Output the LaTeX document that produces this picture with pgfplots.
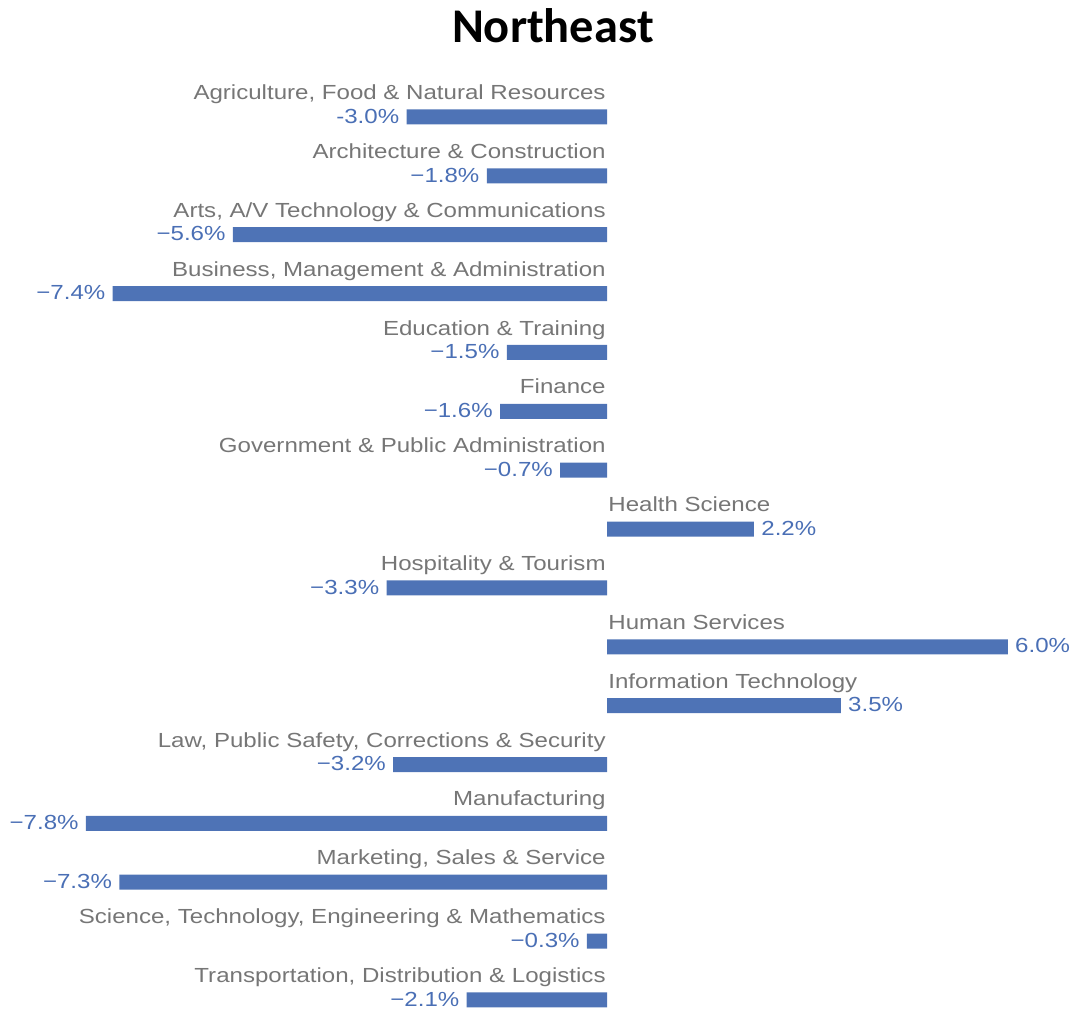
\documentclass[border=0pt]{standalone}
\usepackage{pgfplots}
\usepackage{pgfplotstable}
\usepackage{fontspec}
\setmainfont[FakeStretch=1.18]{Liberation Sans}
\newfontfamily\titlefont{Carlito}
\pgfplotsset{compat=1.18}
\definecolor{barblue}{HTML}{4E73B6}
\definecolor{valblue}{HTML}{4A6FB5}
\definecolor{labgray}{HTML}{767676}

% rows that fall below zero
\pgfplotstableread[col sep=semicolon]{
y;val;name;lab
0;-3.0;Agriculture, Food \& Natural Resources;-3.0\%
1;-1.8;Architecture \& Construction;−1.8\%
2;-5.6;Arts, A/V Technology \& Communications;−5.6\%
3;-7.4;Business, Management \& Administration;−7.4\%
4;-1.5;Education \& Training;−1.5\%
5;-1.6;Finance;−1.6\%
6;-0.7;Government \& Public Administration;−0.7\%
8;-3.3;Hospitality \& Tourism;−3.3\%
11;-3.2;Law, Public Safety, Corrections \& Security;−3.2\%
12;-7.8;Manufacturing;−7.8\%
13;-7.3;Marketing, Sales \& Service;−7.3\%
14;-0.3;Science, Technology, Engineering \& Mathematics;−0.3\%
15;-2.1;Transportation, Distribution \& Logistics;−2.1\%
}\negdata

% rows above zero
\pgfplotstableread[col sep=semicolon]{
y;val;name;lab
7;2.2;Health Science;2.2\%
9;6.0;Human Services;6.0\%
10;3.5;Information Technology;3.5\%
}\posdata

\begin{document}
\begin{tikzpicture}
\begin{axis}[
  scale only axis,
  width=538pt, height=505pt,
  xmin=-9.087, xmax=7.021,
  ymin=-1.987, ymax=15.17,
  y dir=reverse,
  hide axis,
  clip=false,
  point meta=explicit symbolic,
]
\path (rel axis cs:0,0) rectangle (rel axis cs:1,1);

% bars with their values
\addplot[xbar, bar shift=0pt, bar width=7.5pt, fill=barblue, draw=none,
  nodes near coords,
  every node near coord/.append style={font=\fontsize{10.2pt}{12pt}\selectfont,
    text=valblue, inner sep=0pt, anchor=base east, xshift=-3.5pt, yshift=-3.1pt}]
  table[x=val, y=y, meta=lab] {\negdata};
\addplot[xbar, bar shift=0pt, bar width=7.5pt, fill=barblue, draw=none,
  nodes near coords,
  every node near coord/.append style={font=\fontsize{10.2pt}{12pt}\selectfont,
    text=valblue, inner sep=0pt, anchor=base west, xshift=3.5pt, yshift=-3.1pt}]
  table[x=val, y=y, meta=lab] {\posdata};

% category names sitting on the zero line
\addplot[draw=none, mark=none, nodes near coords,
  every node near coord/.append style={font=\fontsize{10.2pt}{12pt}\selectfont,
    text=labgray, inner sep=0pt, anchor=base east, xshift=-0.5pt, yshift=8.7pt}]
  table[x expr=0, y=y, meta=name] {\negdata};
\addplot[draw=none, mark=none, nodes near coords,
  every node near coord/.append style={font=\fontsize{10.2pt}{12pt}\selectfont,
    text=labgray, inner sep=0pt, anchor=base west, xshift=0.5pt, yshift=8.7pt}]
  table[x expr=0, y=y, meta=name] {\posdata};

\node[anchor=base, font=\titlefont\bfseries\fontsize{24.2pt}{28pt}\selectfont]
  at (axis cs:-0.81,-1.273) {Northeast};
\end{axis}
\end{tikzpicture}
\end{document}
